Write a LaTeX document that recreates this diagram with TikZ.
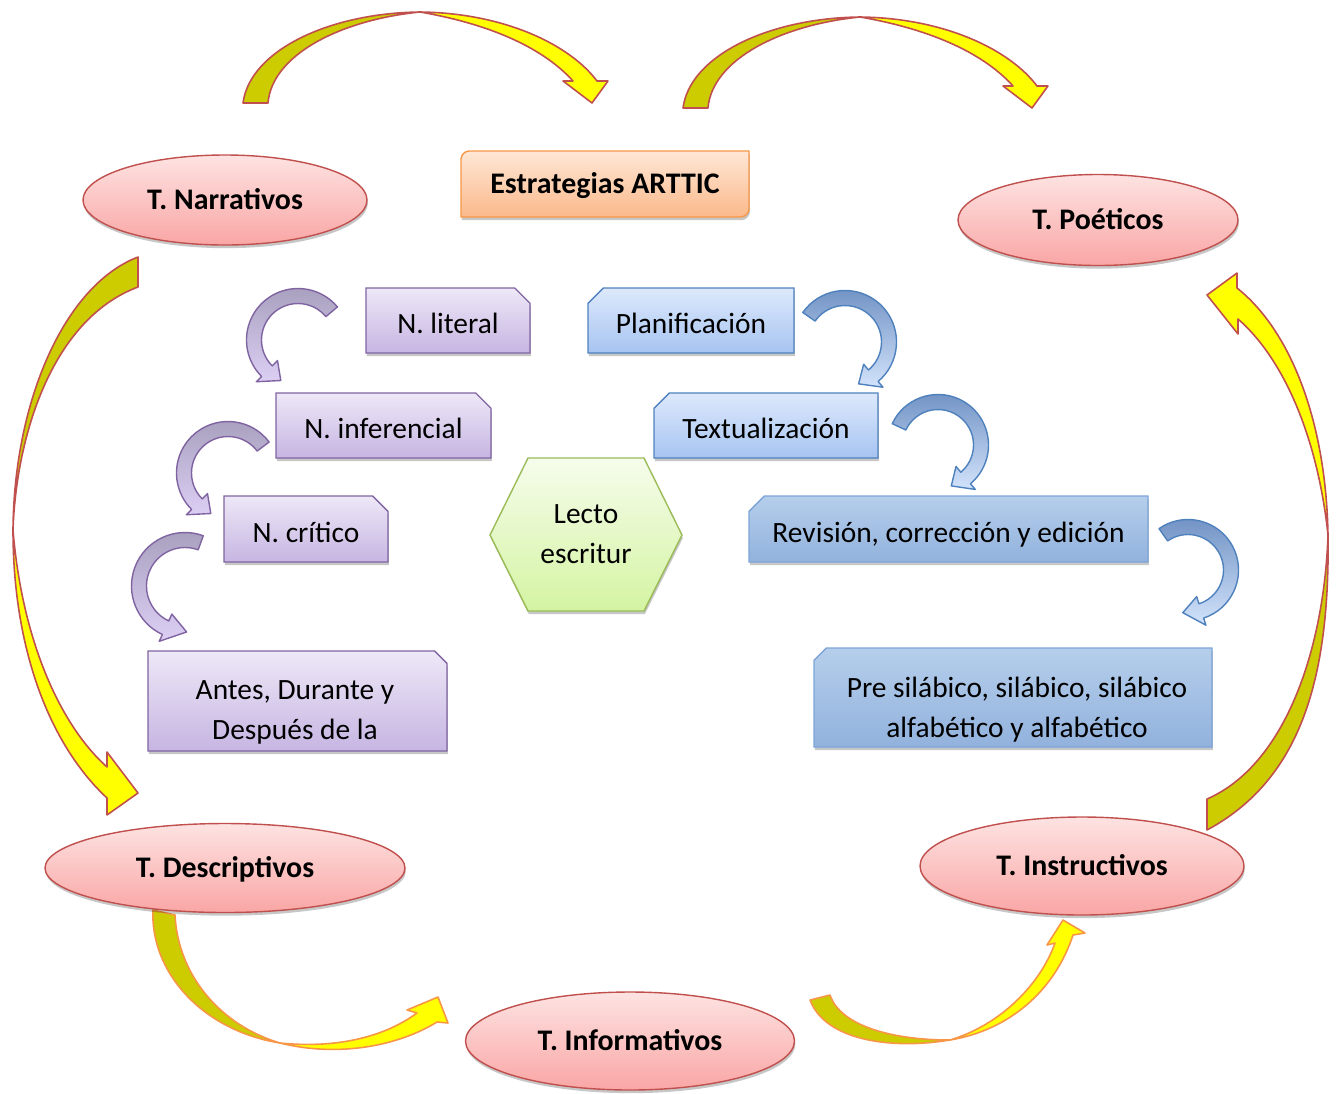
\documentclass[tikz,border=0pt]{standalone}
\usepackage{fontspec}
\setmainfont{Carlito}
\usetikzlibrary{shapes.geometric,shapes.misc,shadows}
\definecolor{ellB}{HTML}{C0504D}
\definecolor{ellT}{HTML}{FDE3E2}
\definecolor{ellBot}{HTML}{F9A6A5}
\definecolor{estB}{HTML}{F79646}
\definecolor{estT}{HTML}{FEE7D6}
\definecolor{estBot}{HTML}{FBB98B}
\definecolor{purB}{HTML}{8064A2}
\definecolor{purT}{HTML}{EEE8F7}
\definecolor{purBot}{HTML}{C6B5E2}
\definecolor{bluB}{HTML}{4F81BD}
\definecolor{bluT}{HTML}{DDE9FC}
\definecolor{bluBot}{HTML}{A6C4F1}
\definecolor{revB}{HTML}{7DA4D8}
\definecolor{revT}{HTML}{B5CEEB}
\definecolor{revBot}{HTML}{92B2DD}
\definecolor{hexB}{HTML}{9BBB59}
\definecolor{hexT}{HTML}{F6FCEC}
\definecolor{hexBot}{HTML}{D4F4A2}
\definecolor{olv}{HTML}{CCCC00}
\definecolor{ylw}{HTML}{FFFF00}
\definecolor{arrR}{HTML}{C0504D}
\definecolor{arrO}{HTML}{F79646}
\definecolor{paT}{HTML}{A69EBC}
\definecolor{paBot}{HTML}{DCCFF4}
\definecolor{baT}{HTML}{6D8FC2}
\definecolor{baBot}{HTML}{D2E3FB}
\newcommand\pxl{0.02cm}
\newcommand\ribbon[7]{%
  \begin{scope}[shift={(#2,#3)}]
    \path[#1] (#5:{#4+7.5}) arc[start angle=#5, end angle=#6, radius={#4+7.5}]
      -- (#6:{#4+15}) -- (#7:#4) -- (#6:{#4-15}) -- (#6:{#4-7.5})
      arc[start angle=#6, end angle=#5, radius={#4-7.5}] -- cycle;
  \end{scope}}
\begin{document}
\begin{tikzpicture}[x=0.02cm,y=-0.02cm,
  font=\fontsize{16.75pt}{22.7pt}\selectfont,
  shad/.style={drop shadow={shadow xshift=0.5pt,shadow yshift=-1.8pt,opacity=0.22,fill=black}},
  ell/.style={ellipse, draw=ellB, line width=0.8pt, top color=ellT, bottom color=ellBot, shad,
    inner sep=0pt, font=\fontsize{17pt}{20pt}\selectfont\bfseries, text height=10.9pt, text depth=0pt},
  boxbase/.style={chamfered rectangle, chamfered rectangle xsep=5.5pt, line width=0.8pt, shad,
    inner sep=0pt, text height=14.9pt, text depth=0pt},
  purp/.style={boxbase, chamfered rectangle corners=north east, draw=purB, top color=purT, bottom color=purBot},
  blu/.style={boxbase, chamfered rectangle corners=north west, draw=bluB, top color=bluT, bottom color=bluBot},
  rev/.style={boxbase, chamfered rectangle corners=north west, draw=revB, top color=revT, bottom color=revBot},
  txt/.style={inner sep=0pt, align=center},
  oliv/.style={fill=olv, draw=#1, line width=0.9pt, line join=round},
  yel/.style={fill=ylw, draw=#1, line width=0.9pt, line join=round},
  parr/.style={draw=purB, line width=0.8pt, top color=paT, bottom color=paBot, line join=round},
  barr/.style={draw=bluB, line width=0.8pt, top color=baT, bottom color=baBot, line join=round}]
\useasboundingbox (0,0) rectangle (1342,1093);

% big curved arrows
\path[oliv=arrR] (243,103) .. controls (250,50) and (330,13) .. (420,12) .. controls (340,20) and (272,55) .. (268,103) -- cycle;
\path[yel=arrR] (420,12) .. controls (505,13) and (570,45) .. (597,81) -- (608,81) -- (592,103) -- (563,81) -- (573,81) .. controls (545,50) and (495,25) .. (420,12) -- cycle;
\begin{scope}[shift={(440,5)}]
\path[oliv=arrR] (243,103) .. controls (250,50) and (330,13) .. (420,12) .. controls (340,20) and (272,55) .. (268,103) -- cycle;
\path[yel=arrR] (420,12) .. controls (505,13) and (570,45) .. (597,81) -- (608,81) -- (592,103) -- (563,81) -- (573,81) .. controls (545,50) and (495,25) .. (420,12) -- cycle;
\end{scope}
\path[oliv=arrR] (138,257) .. controls (65,285) and (14,400) .. (13,530) .. controls (16,440) and (50,320) .. (138,287) -- cycle;
\path[yel=arrR] (13,530) .. controls (13,650) and (50,745) .. (107,798) -- (107,815) -- (138,793) -- (107,752) -- (107,767) .. controls (60,725) and (22,640) .. (13,530) -- cycle;
\path[oliv=arrR] (1207,830) .. controls (1300,780) and (1330,680) .. (1328,535) .. controls (1324,650) and (1285,765) .. (1207,799) -- cycle;
\path[yel=arrR] (1328,535) .. controls (1326,420) and (1290,330) .. (1237,288) -- (1237,273) -- (1207,295) -- (1238,334) -- (1238,319) .. controls (1285,360) and (1318,440) .. (1328,535) -- cycle;
\path[oliv=arrO] (153,910) .. controls (150,970) and (200,1030) .. (280,1043) .. controls (220,1025) and (178,975) .. (175,915) -- cycle;
\path[yel=arrO] (280,1043) .. controls (340,1058) and (400,1045) .. (437,1022) -- (448,1023) -- (438,997) -- (407,1010) -- (417,1013) .. controls (380,1040) and (330,1048) .. (280,1043) -- cycle;
\path[oliv=arrO] (810,1000) .. controls (825,1040) and (890,1050) .. (950,1040) .. controls (890,1040) and (840,1025) .. (830,995) -- cycle;
\path[yel=arrO] (950,1040) .. controls (1010,1030) and (1055,990) .. (1073,935) -- (1085,933) -- (1063,920) -- (1047,945) -- (1055,943) .. controls (1040,985) and (1000,1025) .. (950,1040) -- cycle;

% small ribbon arrows
\ribbon{parr}{298}{340}{44}{-40}{-225}{-247}
\ribbon{parr}{228}{473}{44}{-37}{-225}{-247}
\ribbon{parr}{185}{586}{46}{-70}{-245}{-272}
\ribbon{barr}{845}{342}{44}{-145}{50}{72}
\ribbon{barr}{938}{445}{43}{-155}{50}{72}
\ribbon{barr}{1188}{570}{43}{-125}{72}{97}

% title box
\path[draw=estB, line width=0.8pt, top color=estT, bottom color=estBot, shad]
  (461,217) -- (461,159) .. controls (461,155.4) and (464.6,151) .. (469,151) -- (749,151)
  -- (749,209) .. controls (749,212.6) and (745.4,217) .. (741,217) -- cycle;
\node[inner sep=0pt, font=\fontsize{17pt}{20pt}\selectfont\bfseries, text height=10.9pt, text depth=0pt] (est) at (605,184) {Estrategias ARTTIC};

% ellipses
\node[ell, minimum width=284*\pxl, minimum height=90*\pxl] (narr) at (225,200) {T. Narrativos};
\node[ell, minimum width=280*\pxl, minimum height=91*\pxl] (poet) at (1098,220) {T. Poéticos};
\node[ell, minimum width=360*\pxl, minimum height=89*\pxl] (desc) at (225,868) {T. Descriptivos};
\node[ell, minimum width=324*\pxl, minimum height=98*\pxl] (instr) at (1082,866) {T. Instructivos};
\node[ell, minimum width=329*\pxl, minimum height=98*\pxl] (inform) at (630,1041) {T. Informativos};

% purple boxes
\node[purp, minimum width=164*\pxl, minimum height=65*\pxl] (lit) at (448,320.5) {N. literal};
\node[purp, minimum width=215*\pxl, minimum height=65*\pxl] (inf) at (383.5,425.5) {N. inferencial};
\node[purp, minimum width=164*\pxl, minimum height=66*\pxl] (cri) at (306,529) {N. crítico};
\node[purp, minimum width=299*\pxl, minimum height=100*\pxl, chamfered rectangle xsep=7pt] (antes) at (297.5,701) {};
\node[txt] (antesT) at (295,712) {Antes, Durante y\\Después de la};

% blue boxes
\node[blu, minimum width=206*\pxl, minimum height=65*\pxl] (plan) at (691,320.5) {Planificación};
\node[blu, minimum width=224*\pxl, minimum height=65*\pxl] (textu) at (766,425.5) {Textualización};
\node[rev, minimum width=399*\pxl, minimum height=66*\pxl] (revi) at (948.5,529) {Revisión, corrección y edición};
\node[rev, minimum width=398*\pxl, minimum height=99*\pxl, chamfered rectangle xsep=7pt] (pre) at (1013,697.5) {};
\node[txt] (preT) at (1017,709.5) {Pre silábico, silábico, silábico\\alfabético y alfabético};

% hexagon
\path[draw=hexB, line width=0.8pt, top color=hexT, bottom color=hexBot, shad]
  (490,535) -- (528,458) -- (644,458) -- (682,535) -- (644,611) -- (528,611) -- cycle;
\node[txt] (lecto) at (586,534) {Lecto\\escritur};
\end{tikzpicture}
\end{document}
